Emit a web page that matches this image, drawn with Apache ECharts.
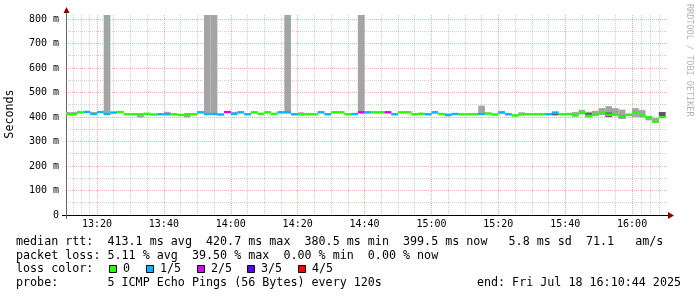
<!DOCTYPE html>
<html><head><meta charset="utf-8">
<script src="https://cdn.jsdelivr.net/npm/echarts@6/dist/echarts.min.js"></script>
<style>html,body{margin:0;padding:0;background:#fff}#c{width:697px;height:297px}</style>
</head><body><div id="c"></div>
<script>
// ---- data (ms), one value per 120 s step, 13:10 .. 16:10 ----
const median = [
 411,411,419,420.7,412,420,412,418,420,411,
 411,411,413,410,411,411,411,408,411,411,
 419,412,412,410,420,413,419,411,419,413,
 419,413,419,419,411,411,411,411,419,411,
 419,419,411,412,419,419,419,419,419,411,
 419,419,411,413,411,419,412,409,412,411,
 411,411,412,414,410,419,411,406,410,411,
 411,411,411,418,411,412,406,418,405,409,
 418,409,411,401,409,419,407,398,380.5,399.5];
const lossCount = [
 0,0,0,1,1,1,1,1,0,0,
 0,0,0,0,1,1,0,0,0,0,
 1,1,1,1,2,1,1,1,0,0,
 0,0,1,1,1,0,0,0,1,1,
 0,0,0,1,2,1,0,0,2,1,
 0,0,0,0,1,1,0,1,1,0,
 0,0,1,0,0,1,1,0,0,0,
 0,0,1,1,0,0,0,0,0,0,
 0,0,0,0,0,0,0,0,0,0];
const smokeLo = [
 408,408,415,416,409,416,409,415,416,408,
 408,398,410,407,408,408,408,405,398,408,
 415,409,409,407,416,410,415,408,415,410,
 415,410,415,415,408,408,408,408,415,408,
 415,415,408,409,415,415,415,415,415,408,
 415,415,408,410,408,415,409,402,409,408,
 408,408,409,411,407,413,408,403,407,408,
 408,408,408,407,408,409,403,410,398,404,
 408,402,403,394,405,400,398,386,376,396];
const smokeHi = [
 420,420,422,423,420,423,900,421,423,414,
 414,414,416,413,414,421,414,411,414,414,
 422,900,900,413,423,420,422,414,422,416,
 422,416,422,900,414,419,414,414,422,414,
 422,422,414,415,900,422,422,422,422,414,
 422,422,414,416,414,422,415,412,415,414,
 414,414,446,417,413,422,414,410,419,414,
 414,414,414,421,415,415,420,429,421,425,
 436,444,436,430,413,436,428,404,396,420];
const darkLo = {73:407, 78:405, 81:400, 83:394, 89:400};
const darkHi = {73:412, 78:416, 81:418, 83:406, 89:420};
const lossColors = ['#26ff00','#00b8ff','#dd00ff','#5e00ff','#ff0000'];
const lossLabels = ['0','1/5','2/5','3/5','4/5'];
const yTickLabels = ['0','100 m','200 m','300 m','400 m','500 m','600 m','700 m','800 m'];
const legendLines = [
 'median rtt:  413.1 ms avg  420.7 ms max  380.5 ms min  399.5 ms now   5.8 ms sd  71.1   am/s',
 'packet loss: 5.11 % avg  39.50 % max  0.00 % min  0.00 % now',
 'loss color:',
 'probe:       5 ICMP Echo Pings (56 Bytes) every 120s'
];
const endText = 'end: Fri Jul 18 16:10:44 2025';

const STEP = 120000;
const T0 = new Date(2025,6,18,13,10,0).getTime();
const tMin = new Date(2025,6,18,13,10,44).getTime();
const tMax = new Date(2025,6,18,16,10,44).getTime();

const smokeData = median.map((m,j)=>[T0+j*STEP, T0+(j+1)*STEP, smokeLo[j], smokeHi[j]]);
const darkData = Object.keys(darkLo).map(k=>{const j=+k; return [T0+j*STEP, T0+(j+1)*STEP, darkLo[j], darkHi[j]];});
const medData = median.map((m,j)=>[T0+j*STEP, T0+(j+1)*STEP, m, lossCount[j]]);

const FONT = '"DejaVu Sans Mono", monospace';
const LF = '11.7px ' + FONT;

function clip(shape, cs){
  return echarts.graphic.clipRectByRect(shape, {x:cs.x, y:cs.y, width:cs.width, height:cs.height});
}
function bandRender(color){
  return function(params, api){
    const p0 = api.coord([api.value(0), api.value(3)]);
    const p1 = api.coord([api.value(1), api.value(2)]);
    const shape = clip({x:p0[0], y:p0[1], width:p1[0]-p0[0], height:p1[1]-p0[1]}, params.coordSys);
    return shape && {type:'rect', shape, style:{fill:color}};
  };
}
function medRender(params, api){
  const p0 = api.coord([api.value(0), api.value(2)]);
  const p1 = api.coord([api.value(1), api.value(2)]);
  const shape = clip({x:p0[0], y:p0[1]-1.2, width:p1[0]-p0[0], height:2.4}, params.coordSys);
  return shape && {type:'rect', shape, style:{fill:lossColors[api.value(3)]}};
}

const grey = 'rgba(120,120,120,0.35)';
const red = 'rgba(230,0,0,0.33)';

const graphic = [];
const lineY = [241.7, 255.5, 269.3, 283.3];
legendLines.forEach((t,i)=>graphic.push({type:'text', x:16, y:lineY[i], style:{text:t, font:LF, fill:'#000', verticalAlign:'middle'}}));
graphic.push({type:'text', x:681, y:lineY[3], style:{text:endText, font:LF, fill:'#000', verticalAlign:'middle', align:'right'}});
const boxX = [109,146,197,247,298];
lossLabels.forEach((l,i)=>{
  graphic.push({type:'rect', shape:{x:boxX[i]+0.5, y:265.5, width:7, height:7}, style:{fill:lossColors[i], stroke:'#000', lineWidth:1}});
  graphic.push({type:'text', x:boxX[i]+14, y:lineY[2], style:{text:l, font:LF, fill:'#000', verticalAlign:'middle'}});
});
graphic.push({type:'text', x:10, y:114, rotation:Math.PI/2, style:{text:'Seconds', font:LF, fill:'#000', align:'center', verticalAlign:'middle'}});
graphic.push({type:'text', x:689, y:4, rotation:-Math.PI/2, style:{text:'RRDTOOL / TOBI OETIKER', font:'8.5px '+FONT, fill:'#b4b4b4', verticalAlign:'middle'}});
// axis extensions and arrows
graphic.push({type:'line', shape:{x1:62, y1:215.5, x2:669, y2:215.5}, style:{stroke:'#000', lineWidth:1}});
graphic.push({type:'line', shape:{x1:66.5, y1:219, x2:66.5, y2:12}, style:{stroke:'#666', lineWidth:1}});
graphic.push({type:'polygon', shape:{points:[[668,212],[674,215.5],[668,219]]}, style:{fill:'#8b0000'}});
graphic.push({type:'polygon', shape:{points:[[63.5,13],[66.5,7],[69.5,13]]}, style:{fill:'#8b0000'}});

const chart = echarts.init(document.getElementById('c'), null, {renderer:'canvas'});
chart.setOption({
  animation:false,
  backgroundColor:'#fff',
  grid:{left:66, top:15, width:602, height:200, containLabel:false},
  xAxis:{type:'time', min:tMin, max:tMax, splitNumber:8, minInterval:25*60000, maxInterval:25*60000,
    axisLine:{show:false}, axisTick:{show:false},
    axisLabel:{formatter:'{HH}:{mm}', fontFamily:FONT, fontSize:10, color:'#000', margin:4, hideOverlap:false, showMinLabel:false, showMaxLabel:false},
    splitLine:{show:true, showMinLine:false, showMaxLine:false, lineStyle:{color:red, type:[1,1], width:1}},
    minorTick:{show:false, splitNumber:4},
    minorSplitLine:{show:true, lineStyle:{color:grey, type:[1,1], width:1}}
  },
  yAxis:{type:'value', min:0, max:816, interval:100,
    axisLine:{show:false}, axisTick:{show:false},
    axisLabel:{fontFamily:FONT, fontSize:10, color:'#000', margin:7, showMaxLabel:false,
      formatter:v=>yTickLabels[Math.round(v/100)] || ''},
    splitLine:{show:true, showMinLine:false, showMaxLine:false, lineStyle:{color:red, type:[1,1], width:1}},
    minorTick:{show:false, splitNumber:2},
    minorSplitLine:{show:true, lineStyle:{color:grey, type:[1,1], width:1}}
  },
  series:[
    {type:'custom', renderItem:bandRender('#a4a4a4'), data:smokeData, encode:{x:[0,1], y:[2,3]}, silent:true, z:2},
    {type:'custom', renderItem:bandRender('#585858'), data:darkData, encode:{x:[0,1], y:[2,3]}, silent:true, z:3},
    {type:'custom', renderItem:medRender, data:medData, encode:{x:[0,1], y:[2]}, silent:true, z:4}
  ],
  graphic:graphic
});
</script></body></html>
